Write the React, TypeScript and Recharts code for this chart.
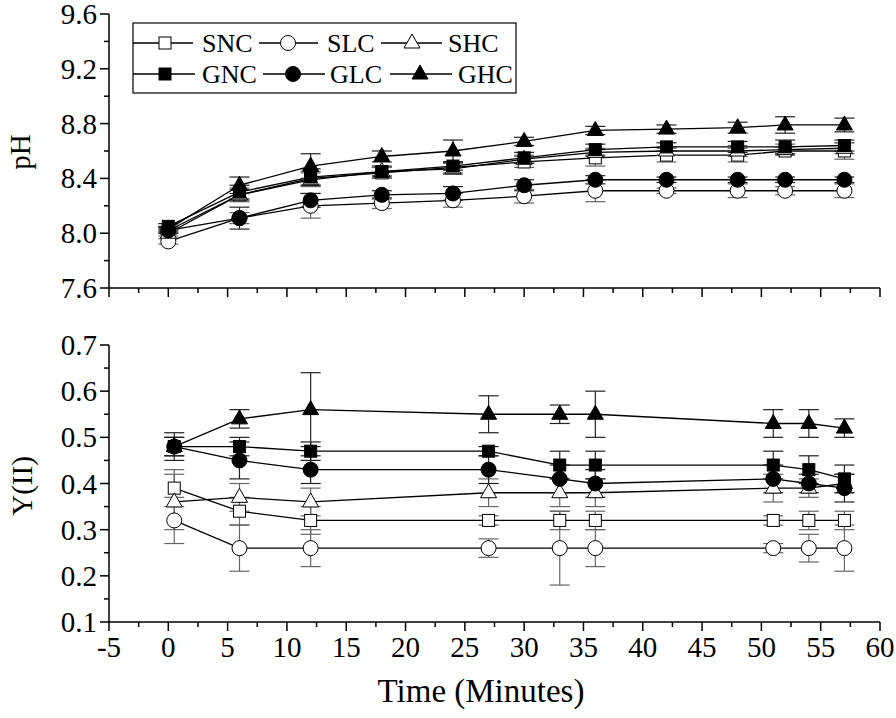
import React from 'react';
import { LineChart, Line, XAxis, YAxis, ErrorBar } from 'recharts';

// time points (minutes)
const phTime = [0, 6, 12, 18, 24, 30, 36, 42, 48, 52, 57];
const yTime = [0.5, 6, 12, 27, 33, 36, 51, 54, 57];

// pH panel
const phSNC = [8.02, 8.28, 8.4, 8.44, 8.48, 8.52, 8.55, 8.57, 8.57, 8.6, 8.6];
const phSLC = [7.94, 8.11, 8.2, 8.22, 8.24, 8.27, 8.31, 8.31, 8.31, 8.31, 8.31];
const phSHC = [8.0, 8.28, 8.39, 8.45, 8.47, 8.54, 8.59, 8.6, 8.6, 8.61, 8.62];
const phGNC = [8.05, 8.3, 8.41, 8.45, 8.49, 8.55, 8.61, 8.63, 8.63, 8.63, 8.64];
const phGLC = [8.02, 8.11, 8.24, 8.28, 8.29, 8.35, 8.39, 8.39, 8.39, 8.39, 8.39];
const phGHC = [8.03, 8.35, 8.49, 8.56, 8.6, 8.67, 8.75, 8.76, 8.77, 8.79, 8.79];

const phErrSNC = [0.02, 0.04, 0.05, 0.04, 0.04, 0.04, 0.06, 0.05, 0.05, 0.03, 0.06];
const phErrSLC = [0.02, 0.04, 0.09, 0.04, 0.05, 0.05, 0.08, 0.02, 0.05, 0.03, 0.05];
const phErrSHC = [0.02, 0.05, 0.05, 0.03, 0.04, 0.03, 0.03, 0.03, 0.04, 0.04, 0.04];
const phErrGNC = [0.02, 0.05, 0.06, 0.04, 0.03, 0.04, 0.04, 0.03, 0.04, 0.05, 0.04];
const phErrGLC = [0.02, 0.08, 0.05, 0.03, 0.05, 0.04, 0.03, 0.02, 0.02, 0.02, 0.02];
const phErrGHC = [0.02, 0.06, 0.09, 0.04, 0.08, 0.03, 0.03, 0.03, 0.04, 0.06, 0.05];

// Y(II) panel
const yiiSNC = [0.39, 0.34, 0.32, 0.32, 0.32, 0.32, 0.32, 0.32, 0.32];
const yiiSLC = [0.32, 0.26, 0.26, 0.26, 0.26, 0.26, 0.26, 0.26, 0.26];
const yiiSHC = [0.36, 0.37, 0.36, 0.38, 0.38, 0.38, 0.39, 0.39, 0.4];
const yiiGNC = [0.48, 0.48, 0.47, 0.47, 0.44, 0.44, 0.44, 0.43, 0.41];
const yiiGLC = [0.48, 0.45, 0.43, 0.43, 0.41, 0.4, 0.41, 0.4, 0.39];
const yiiGHC = [0.48, 0.54, 0.56, 0.55, 0.55, 0.55, 0.53, 0.53, 0.52];

const yiiErrSNC = [0.04, 0.03, 0.03, 0.01, 0.02, 0.02, 0.01, 0.02, 0.02];
const yiiErrSLC = [0.05, 0.05, 0.04, 0.02, 0.08, 0.04, 0.01, 0.03, 0.05];
const yiiErrSHC = [0.06, 0.03, 0.03, 0.03, 0.03, 0.03, 0.03, 0.02, 0.02];
const yiiErrGNC = [0.03, 0.02, 0.02, 0.01, 0.03, 0.03, 0.03, 0.03, 0.03];
const yiiErrGLC = [0.02, 0.04, 0.03, 0.03, 0.03, 0.03, 0.03, 0.02, 0.03];
const yiiErrGHC = [0.02, 0.02, 0.08, 0.04, 0.02, 0.05, 0.03, 0.03, 0.02];

// ticks
const xTicks = [-5, -2.5, 0, 2.5, 5, 7.5, 10, 12.5, 15, 17.5, 20, 22.5, 25, 27.5, 30, 32.5, 35, 37.5, 40, 42.5, 45, 47.5, 50, 52.5, 55, 57.5, 60];
const xLabels = ['-5', '0', '5', '10', '15', '20', '25', '30', '35', '40', '45', '50', '55', '60'];
const phTicks = [7.6, 7.8, 8.0, 8.2, 8.4, 8.6, 8.8, 9.0, 9.2, 9.4, 9.6];
const phLabels = ['7.6', '8.0', '8.4', '8.8', '9.2', '9.6'];
const yiiTicks = [0.1, 0.15, 0.2, 0.25, 0.3, 0.35, 0.4, 0.45, 0.5, 0.55, 0.6, 0.65, 0.7];
const yiiLabels = ['0.1', '0.2', '0.3', '0.4', '0.5', '0.6', '0.7'];

const FONT = '"Liberation Serif", "Times New Roman", Times, serif';
const TICK_FS = 29;
const txt = { fontFamily: FONT, fill: '#000' };

type Shape = 'square' | 'circle' | 'triangle';

const toRows = (t: number[], v: number[], e: number[]) => t.map((x, i) => ({ t: x, v: v[i], e: e[i] }));

const phSeries = [
  { name: 'SNC', shape: 'square' as Shape, filled: false, data: toRows(phTime, phSNC, phErrSNC) },
  { name: 'SLC', shape: 'circle' as Shape, filled: false, data: toRows(phTime, phSLC, phErrSLC) },
  { name: 'SHC', shape: 'triangle' as Shape, filled: false, data: toRows(phTime, phSHC, phErrSHC) },
  { name: 'GLC', shape: 'circle' as Shape, filled: true, data: toRows(phTime, phGLC, phErrGLC) },
  { name: 'GNC', shape: 'square' as Shape, filled: true, data: toRows(phTime, phGNC, phErrGNC) },
  { name: 'GHC', shape: 'triangle' as Shape, filled: true, data: toRows(phTime, phGHC, phErrGHC) },
];

const yiiSeries = [
  { name: 'SNC', shape: 'square' as Shape, filled: false, data: toRows(yTime, yiiSNC, yiiErrSNC) },
  { name: 'SLC', shape: 'circle' as Shape, filled: false, data: toRows(yTime, yiiSLC, yiiErrSLC) },
  { name: 'SHC', shape: 'triangle' as Shape, filled: false, data: toRows(yTime, yiiSHC, yiiErrSHC) },
  { name: 'GLC', shape: 'circle' as Shape, filled: true, data: toRows(yTime, yiiGLC, yiiErrGLC) },
  { name: 'GNC', shape: 'square' as Shape, filled: true, data: toRows(yTime, yiiGNC, yiiErrGNC) },
  { name: 'GHC', shape: 'triangle' as Shape, filled: true, data: toRows(yTime, yiiGHC, yiiErrGHC) },
];

const Marker = ({ cx, cy, shape, filled }: { cx: number; cy: number; shape: Shape; filled: boolean }) => {
  const fill = filled ? '#000' : '#fff';
  if (shape === 'square') {
    return <rect x={cx - 6} y={cy - 6} width={12} height={12} fill={fill} stroke="#000" strokeWidth={1} />;
  }
  if (shape === 'circle') {
    return <circle cx={cx} cy={cy} r={7.5} fill={fill} stroke="#000" strokeWidth={1} />;
  }
  return (
    <polygon
      points={`${cx},${cy - 9} ${cx - 8},${cy + 5} ${cx + 8},${cy + 5}`}
      fill={fill}
      stroke="#000"
      strokeWidth={1}
    />
  );
};

const isStep = (v: number, start: number, step: number) => {
  const k = (v - start) / step;
  return Math.abs(k - Math.round(k)) < 1e-6;
};

const XTick = (props: any) => {
  const { x, y, payload, showLabel } = props;
  const major = isStep(payload.value, -5, 5);
  const label = major ? xLabels[Math.round((payload.value + 5) / 5)] : null;
  return (
    <g>
      <line x1={x} x2={x} y1={y} y2={y + (major ? 9 : 5)} stroke="#000" strokeWidth={1.5} />
      {showLabel && label && (
        <text x={x} y={y + 35} textAnchor="middle" fontSize={TICK_FS} style={txt}>
          {label}
        </text>
      )}
    </g>
  );
};

const YTick = (props: any) => {
  const { x, y, payload, start, step, labels } = props;
  const major = isStep(payload.value, start, step);
  const label = major ? labels[Math.round((payload.value - start) / step)] : null;
  return (
    <g>
      <line x1={x} x2={x - (major ? 9 : 5)} y1={y} y2={y} stroke="#000" strokeWidth={1.5} />
      {label && (
        <text x={x - 12} y={y + 10} textAnchor="end" fontSize={TICK_FS} style={txt}>
          {label}
        </text>
      )}
    </g>
  );
};

const AxisTitle = ({ text, cx, cy }: { text: string; cx: number; cy: number }) => (
  <text
    x={cx}
    y={cy}
    transform={`rotate(-90 ${cx} ${cy})`}
    textAnchor="middle"
    dominantBaseline="central"
    fontSize={TICK_FS}
    style={txt}
  >
    {text}
  </text>
);

const renderSeries = (series: typeof phSeries) =>
  series.map((s) => (
    <Line
      key={s.name}
      data={s.data}
      dataKey="v"
      name={s.name}
      stroke="#000"
      strokeWidth={1.3}
      isAnimationActive={false}
      activeDot={false}
      dot={(p: any) => (
        <Marker key={`${s.name}-${p.index}`} cx={p.cx} cy={p.cy} shape={s.shape} filled={s.filled} />
      )}
    >
      <ErrorBar dataKey="e" width={10} stroke={s.filled ? '#222' : '#666'} strokeWidth={1.2} direction="y" />
    </Line>
  ));

const legendRows = [
  [
    { name: 'SNC', shape: 'square' as Shape, filled: false, x1: 133, x2: 193, mx: 165, tx: 202 },
    { name: 'SLC', shape: 'circle' as Shape, filled: false, x1: 259, x2: 318, mx: 288, tx: 327 },
    { name: 'SHC', shape: 'triangle' as Shape, filled: false, x1: 381, x2: 442, mx: 412, tx: 448 },
  ],
  [
    { name: 'GNC', shape: 'square' as Shape, filled: true, x1: 133, x2: 195, mx: 165, tx: 202 },
    { name: 'GLC', shape: 'circle' as Shape, filled: true, x1: 263, x2: 325, mx: 293, tx: 330 },
    { name: 'GHC', shape: 'triangle' as Shape, filled: true, x1: 390, x2: 452, mx: 420, tx: 458 },
  ],
];
const legendRowY = [43, 74];

const LegendBox = () => (
  <svg width={896} height={120} style={{ position: 'absolute', left: 0, top: 0, pointerEvents: 'none' }}>
    <rect x={133} y={23} width={383} height={70} fill="#fff" stroke="#000" strokeWidth={1.2} />
    {legendRows.map((row, r) =>
      row.map((it) => (
        <g key={it.name}>
          <line x1={it.x1} x2={it.x2} y1={legendRowY[r]} y2={legendRowY[r]} stroke="#000" strokeWidth={1.4} />
          <Marker cx={it.mx} cy={legendRowY[r]} shape={it.shape} filled={it.filled} />
          <text x={it.tx} y={legendRowY[r] + 9} fontSize={26} style={txt}>
            {it.name}
          </text>
        </g>
      ))
    )}
  </svg>
);

export default function App() {
  return (
    <div style={{ position: 'absolute', left: 0, top: 0, width: 896, height: 718, background: '#fff' }}>
      <div style={{ position: 'absolute', left: 0, top: 0 }}>
        <LineChart width={896} height={330} margin={{ top: 14, right: 16, bottom: 0, left: 0 }}>
          <XAxis
            type="number"
            dataKey="t"
            domain={[-5, 60]}
            ticks={xTicks}
            interval={0}
            tickSize={0}
            tickMargin={0}
            tickLine={false}
            height={42}
            allowDuplicatedCategory={false}
            axisLine={{ stroke: '#000', strokeWidth: 1.5 }}
            tick={<XTick showLabel={false} />}
          />
          <YAxis
            type="number"
            domain={[7.6, 9.6]}
            ticks={phTicks}
            interval={0}
            width={109}
            tickSize={0}
            tickMargin={0}
            tickLine={false}
            axisLine={{ stroke: '#000', strokeWidth: 1.5 }}
            tick={<YTick start={7.6} step={0.4} labels={phLabels} />}
            label={{ content: () => <AxisTitle text="pH" cx={20} cy={152} /> }}
          />
          {renderSeries(phSeries)}
        </LineChart>
      </div>
      <div style={{ position: 'absolute', left: 0, top: 300 }}>
        <LineChart width={896} height={418} margin={{ top: 45, right: 16, bottom: 0, left: 0 }}>
          <XAxis
            type="number"
            dataKey="t"
            domain={[-5, 60]}
            ticks={xTicks}
            interval={0}
            tickSize={0}
            tickMargin={0}
            tickLine={false}
            height={96}
            allowDuplicatedCategory={false}
            axisLine={{ stroke: '#000', strokeWidth: 1.5 }}
            tick={<XTick showLabel />}
            label={{
              content: () => (
                <text x={481} y={402} textAnchor="middle" fontSize={33} style={txt}>
                  Time (Minutes)
                </text>
              ),
            }}
          />
          <YAxis
            type="number"
            domain={[0.1, 0.7]}
            ticks={yiiTicks}
            interval={0}
            width={109}
            tickSize={0}
            tickMargin={0}
            tickLine={false}
            axisLine={{ stroke: '#000', strokeWidth: 1.5 }}
            tick={<YTick start={0.1} step={0.1} labels={yiiLabels} />}
            label={{ content: () => <AxisTitle text="Y(II)" cx={22} cy={186} /> }}
          />
          {renderSeries(yiiSeries)}
        </LineChart>
      </div>
      <LegendBox />
    </div>
  );
}
